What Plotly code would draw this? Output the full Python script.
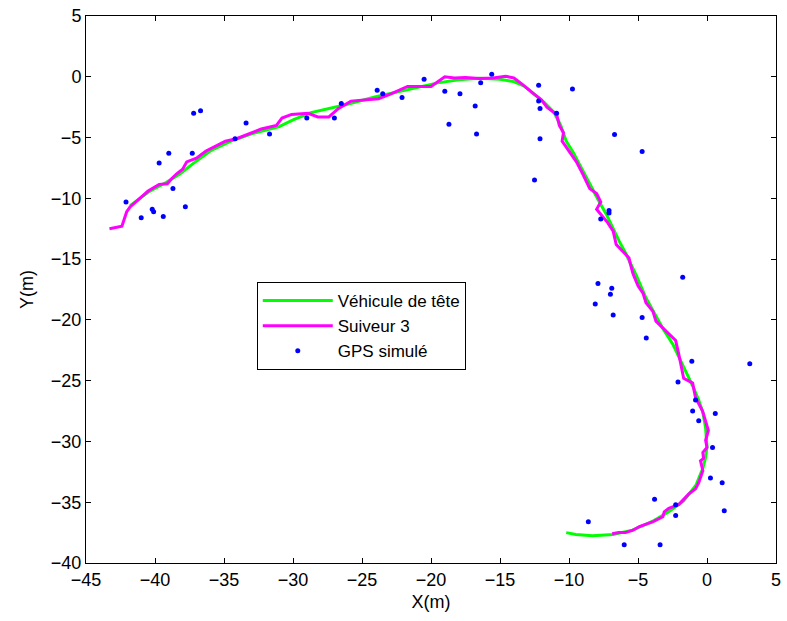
import plotly.graph_objects as go

# Leader vehicle trajectory (smooth path), metres
leader_x = [-41.8, -40.5, -39.2, -38.2, -37.2, -36.0, -34.5, -33.0, -31.0, -30.0,
            -28.7, -27.0, -26.2, -24.0, -22.5, -21.0, -19.5, -18.0, -16.5, -15.0,
            -14.0, -13.2, -12.55, -11.8, -11.1, -10.6, -10.2, -9.7, -9.25, -8.75,
            -8.24, -7.75, -7.3, -6.8, -6.37, -5.86, -5.1, -4.42, -3.8, -3.2,
            -2.48, -1.55, -1.05, -0.6, -0.3, -0.1, 0.0, -0.1, -0.3, -0.8,
            -1.7, -2.8, -4.0, -5.4, -6.8, -8.3, -9.5, -10.2]
leader_y = [-10.6, -9.5, -8.7, -8.0, -7.1, -6.1, -5.3, -4.7, -4.1, -3.55,
            -2.95, -2.55, -2.3, -1.65, -1.25, -0.85, -0.5, -0.25, -0.12, -0.2,
            -0.4, -0.8, -1.4, -2.1, -2.9, -4.0, -5.3, -6.2, -7.2, -8.3,
            -9.4, -10.4, -11.3, -12.5, -13.5, -14.6, -16.4, -18.2, -19.5, -20.7,
            -22.0, -24.2, -25.4, -26.6, -27.6, -28.9, -30.4, -31.3, -32.2, -33.6,
            -34.9, -35.8, -36.6, -37.3, -37.65, -37.75, -37.65, -37.5]

# Follower 3 trajectory
follower_x = [-43.3, -42.4, -42.05, -41.8, -41.1, -40.5, -39.7, -39.1, -38.8, -38.45,
              -38.0, -37.7, -37.0, -36.3, -35.6, -34.9, -34.1, -33.2, -32.3, -31.2,
              -30.8, -30.1, -28.9, -28.2, -27.4, -26.7, -25.8, -23.8, -22.9, -21.7,
              -20.0, -19.0, -18.3, -17.5, -16.5, -15.5, -14.6, -14.0, -13.4, -12.55,
              -12.0, -11.6, -10.9, -10.7, -10.4, -10.5, -10.2, -9.46, -9.0, -8.5,
              -8.0, -7.7, -8.0, -7.7, -7.2, -6.8, -6.58, -5.65, -5.58, -5.36,
              -5.0, -4.64, -4.42, -3.92, -3.7, -2.99, -2.27, -2.05, -1.9, -1.69,
              -1.04, -0.83, -0.32, -0.1, 0.1, -0.1, 0.0, -0.3, -0.25, -0.47,
              -0.3, -0.6, -0.83, -1.3, -1.76, -2.05, -2.77, -3.1, -3.2, -3.9,
              -4.9, -5.36, -5.9, -6.4, -6.87]
follower_y = [-12.5, -12.3, -11.1, -10.7, -10.0, -9.4, -8.85, -8.8, -8.4, -8.0,
              -7.6, -7.0, -6.7, -6.1, -5.7, -5.3, -5.1, -4.7, -4.3, -4.0,
              -3.4, -3.1, -3.0, -3.3, -3.3, -2.6, -2.0, -1.8, -1.4, -0.8,
              -0.8, 0.0, -0.1, -0.05, -0.15, -0.1, 0.05, -0.1, -0.6, -1.4,
              -1.9, -2.5, -3.1, -4.0, -4.6, -5.3, -5.8, -7.0, -8.0, -9.2,
              -9.6, -10.3, -10.9, -11.3, -12.0, -12.7, -13.8, -14.9, -15.3, -16.2,
              -17.2, -17.8, -18.6, -19.3, -20.1, -20.9, -21.7, -22.8, -23.6, -24.8,
              -25.2, -26.4, -27.5, -28.3, -29.1, -29.9, -30.5, -30.9, -31.4, -31.6,
              -32.4, -33.4, -33.9, -34.3, -34.8, -35.2, -35.5, -35.8, -36.2, -36.6,
              -37.0, -37.3, -37.5, -37.5, -37.6]

# Simulated GPS fixes
gps_x = [-37.2, -36.7, -33.4, -31.7, -34.2, -39.0, -37.3, -39.7, -38.7, -42.1,
         -37.8, -41.0, -40.2, -40.1, -39.4, -29.0, -27.0, -26.5, -23.9, -23.5,
         -22.1, -20.5, -19.0, -17.9, -16.8, -18.7, -16.7, -15.6, -16.4, -12.2,
         -9.75, -12.2, -12.1, -10.9, -12.1, -6.7, -4.7, -12.5, -7.1, -7.1,
         -7.7, -1.76, -7.9, -6.9, -7.0, -8.1, -6.8, -4.7, -4.4, -1.1,
         3.1, -2.1, -0.83, -1.04, 0.6, -0.6, 0.4, 0.25, 1.1, 1.25,
         -3.8, -2.27, -2.27, -8.6, -6.0, -3.4]
gps_y = [-3.0, -2.8, -3.8, -4.7, -5.1, -6.3, -6.3, -7.1, -9.2, -10.3,
         -10.7, -11.6, -10.9, -11.1, -11.5, -3.4, -3.4, -2.2, -1.1, -1.4,
         -1.7, -0.2, -1.2, -1.4, -2.4, -3.9, -4.7, 0.2, -0.5, -0.7,
         -1.0, -2.0, -2.6, -3.0, -5.1, -4.75, -6.15, -8.5, -11.0, -11.2,
         -11.7, -16.5, -17.0, -17.4, -17.9, -18.7, -19.6, -19.8, -21.5, -23.4,
         -23.6, -25.1, -26.6, -27.5, -27.7, -28.3, -30.5, -33.0, -33.4, -35.7,
         -34.75, -35.2, -36.1, -36.6, -38.5, -38.5]

x_ticks = [-45, -40, -35, -30, -25, -20, -15, -10, -5, 0, 5]
y_ticks = [5, 0, -5, -10, -15, -20, -25, -30, -35, -40]

FONT = "Liberation Sans, Arial, sans-serif"
TICK_SIZE = 18

fig = go.Figure()
fig.add_trace(go.Scatter(x=leader_x, y=leader_y, mode="lines",
                         name="Véhicule de tête",
                         line=dict(color="#00ff00", width=3)))
fig.add_trace(go.Scatter(x=follower_x, y=follower_y, mode="lines",
                         name="Suiveur 3",
                         line=dict(color="#ff00ff", width=3)))
fig.add_trace(go.Scatter(x=gps_x, y=gps_y, mode="markers",
                         name="GPS simulé",
                         marker=dict(color="#0000ff", size=5)))

axis_common = dict(showgrid=False, zeroline=False, showline=True, mirror="ticks",
                   linecolor="black", linewidth=1, ticks="inside", ticklen=5,
                   tickcolor="black",
                   tickfont=dict(family=FONT, size=TICK_SIZE, color="black"))

fig.update_xaxes(range=[-45, 5], tickvals=x_ticks,
                 title=dict(text="X(m)",
                            font=dict(family=FONT, size=TICK_SIZE, color="black"),
                            standoff=6),
                 **axis_common)
fig.update_yaxes(range=[-40, 5], tickvals=y_ticks,
                 title=dict(text="Y(m)",
                            font=dict(family=FONT, size=TICK_SIZE, color="black"),
                            standoff=12),
                 **axis_common)

fig.update_layout(
    width=787, height=621,
    margin=dict(l=86, r=6, t=14, b=58),
    plot_bgcolor="white", paper_bgcolor="white",
    font=dict(family=FONT, size=TICK_SIZE, color="black"),
    legend=dict(x=0.2475, y=0.5137, xanchor="left", yanchor="top",
                bgcolor="white", bordercolor="black", borderwidth=1,
                itemwidth=70,
                font=dict(family=FONT, size=17, color="black")),
)

fig.write_html("out.html")
